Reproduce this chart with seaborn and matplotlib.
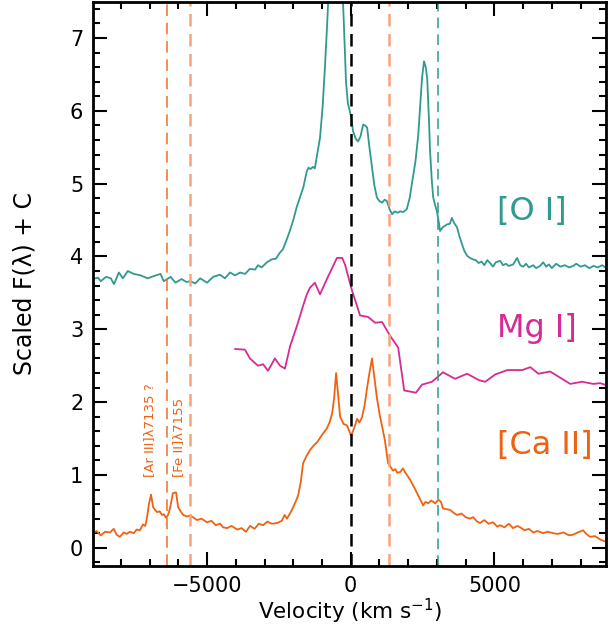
import numpy as np
import pandas as pd
import matplotlib
matplotlib.use("Agg")
import matplotlib.pyplot as plt
from matplotlib.ticker import MultipleLocator
import seaborn as sns

# [O I] spectrum (velocity in km/s, scaled flux + offset)
oi_vel = [-8970, -8800, -8700, -8520, -8350, -8240, -8070, -7930, -7760, -7550,
          -7310, -7070, -6860, -6620, -6510, -6270, -6100, -5890, -5720, -5580,
          -5410, -5240, -5000, -4790, -4550, -4380, -4200, -4030, -3850, -3680,
          -3510, -3330, -3230, -3100, -2920, -2750, -2600, -2470, -2360, -2240,
          -2120, -2000, -1880, -1770, -1650, -1530, -1470, -1400, -1320, -1250,
          -1170, -1070, -980, -900, -820, -750, -600, -450, -300, -240,
          -165, -100, -60, 20, 80, 170, 255, 340, 430, 500,
          570, 650, 740, 820, 910, 1000, 1090, 1180, 1260, 1350,
          1440, 1530, 1630, 1720, 1830, 1950, 2050, 2140, 2250, 2350,
          2420, 2480, 2550, 2610, 2660, 2720, 2760, 2820, 2870, 2940,
          3000, 3060, 3110, 3200, 3350, 3450, 3520, 3600, 3700, 3780,
          3870, 3950, 4050, 4150, 4250, 4350, 4450, 4550, 4650, 4750,
          4850, 4950, 5050, 5200, 5300, 5400, 5500, 5650, 5790, 5900,
          6000, 6100, 6200, 6350, 6450, 6590, 6700, 6800, 6900, 7000,
          7150, 7300, 7450, 7600, 7740, 7850, 8000, 8150, 8300, 8450,
          8600, 8750, 8900]
oi_flux = [3.69, 3.71, 3.66, 3.72, 3.70, 3.62, 3.78, 3.70, 3.80, 3.76,
           3.74, 3.70, 3.73, 3.76, 3.66, 3.72, 3.64, 3.69, 3.65, 3.66,
           3.63, 3.70, 3.64, 3.72, 3.75, 3.70, 3.78, 3.74, 3.78, 3.76,
           3.83, 3.82, 3.88, 3.85, 3.92, 3.96, 3.97, 4.05, 4.10, 4.22,
           4.35, 4.50, 4.68, 4.81, 4.95, 5.17, 5.22, 5.20, 5.23, 5.21,
           5.40, 5.63, 6.05, 6.59, 7.20, 7.80, 8.30, 8.20, 7.80, 7.20,
           6.40, 6.10, 6.04, 5.90, 5.72, 5.62, 5.58, 5.65, 5.81, 5.80,
           5.77, 5.50, 5.22, 4.98, 4.81, 4.76, 4.74, 4.78, 4.76, 4.65,
           4.58, 4.62, 4.60, 4.62, 4.61, 4.65, 4.80, 5.03, 5.30, 5.67,
           6.10, 6.45, 6.68, 6.60, 6.45, 5.90, 5.45, 5.05, 4.81, 4.70,
           4.62, 4.48, 4.35, 4.40, 4.44, 4.45, 4.53, 4.46, 4.40, 4.28,
           4.17, 4.08, 4.01, 3.98, 3.96, 3.95, 3.91, 3.93, 3.88, 3.95,
           3.91, 3.86, 3.92, 3.94, 3.88, 3.90, 3.87, 3.89, 3.98, 3.88,
           3.86, 3.90, 3.85, 3.88, 3.84, 3.87, 3.92, 3.86, 3.89, 3.84,
           3.90, 3.86, 3.88, 3.85, 3.87, 3.90, 3.86, 3.88, 3.84, 3.87,
           3.85, 3.88, 3.84]

# Mg I] spectrum
mg_vel = [-4030, -3680, -3510, -3230, -3050, -2880, -2640, -2460, -2290, -2110,
          -1870, -1660, -1530, -1420, -1250, -1070, -830, -480, -300, -200,
          45, 325, 600, 850, 1090, 1370, 1650, 1860, 2270, 2480,
          2830, 3210, 3630, 4050, 4470, 4680, 5030, 5450, 5970, 6250,
          6530, 6940, 7640, 8050, 8440, 8680, 8920]
mg_flux = [2.73, 2.72, 2.60, 2.50, 2.52, 2.43, 2.60, 2.50, 2.46, 2.77,
           3.05, 3.32, 3.48, 3.57, 3.64, 3.48, 3.69, 3.98, 3.98, 3.89,
           3.53, 3.19, 3.17, 3.09, 3.10, 2.91, 2.75, 2.16, 2.13, 2.24,
           2.28, 2.41, 2.32, 2.39, 2.30, 2.28, 2.38, 2.44, 2.44, 2.48,
           2.39, 2.42, 2.25, 2.28, 2.25, 2.26, 2.23]

# [Ca II] spectrum
ca_vel = [-8970, -8850, -8700, -8550, -8380, -8250, -8150, -8040, -7900, -7800,
          -7690, -7550, -7450, -7340, -7230, -7150, -7090, -7020, -6950, -6880,
          -6810, -6740, -6650, -6570, -6500, -6430, -6360, -6290, -6190, -6080,
          -6010, -5920, -5830, -5700, -5600, -5490, -5350, -5200, -5000, -4850,
          -4700, -4550, -4440, -4300, -4150, -3950, -3800, -3650, -3500, -3350,
          -3200, -3050, -2900, -2750, -2560, -2400, -2300, -2220, -2100, -2000,
          -1900, -1830, -1740, -1660, -1540, -1420, -1300, -1170, -1000, -830,
          -740, -650, -580, -510, -440, -370, -250, -130, 0, 45,
          150, 220, 300, 390, 480, 570, 650, 740, 820, 910,
          1010, 1100, 1190, 1250, 1300, 1400, 1470, 1550, 1620, 1720,
          1820, 1900, 1990, 2070, 2180, 2310, 2420, 2520, 2600, 2700,
          2800, 2940, 3050, 3140, 3210, 3330, 3460, 3580, 3700, 3850,
          4000, 4150, 4260, 4400, 4500, 4650, 4800, 4950, 5100, 5200,
          5350, 5500, 5650, 5800, 5900, 6050, 6200, 6350, 6500, 6700,
          6850, 7050, 7200, 7400, 7600, 7740, 7900, 8090, 8200, 8330,
          8500, 8700, 8920]
ca_flux = [0.20, 0.23, 0.17, 0.22, 0.21, 0.26, 0.18, 0.15, 0.21, 0.19,
           0.22, 0.20, 0.25, 0.24, 0.32, 0.30, 0.42, 0.61, 0.73, 0.56,
           0.52, 0.49, 0.50, 0.45, 0.46, 0.41, 0.45, 0.54, 0.75, 0.76,
           0.56, 0.50, 0.45, 0.43, 0.44, 0.42, 0.38, 0.40, 0.35, 0.37,
           0.31, 0.33, 0.28, 0.27, 0.30, 0.25, 0.27, 0.22, 0.30, 0.26,
           0.33, 0.31, 0.36, 0.33, 0.34, 0.37, 0.45, 0.40, 0.48, 0.56,
           0.65, 0.72, 0.90, 1.16, 1.26, 1.34, 1.40, 1.45, 1.55, 1.64,
           1.72, 1.84, 2.05, 2.40, 2.10, 1.80, 1.70, 1.68, 1.55, 1.57,
           1.68, 1.77, 1.72, 1.79, 1.95, 2.20, 2.40, 2.60, 2.35, 2.06,
           1.82, 1.65, 1.47, 1.30, 1.16, 1.10, 1.06, 1.08, 1.03, 1.04,
           1.09, 1.03, 0.98, 0.93, 0.85, 0.75, 0.66, 0.58, 0.63, 0.61,
           0.65, 0.61, 0.66, 0.63, 0.54, 0.53, 0.52, 0.48, 0.45, 0.47,
           0.42, 0.40, 0.42, 0.36, 0.34, 0.38, 0.33, 0.35, 0.29, 0.31,
           0.28, 0.33, 0.27, 0.30, 0.28, 0.24, 0.26, 0.21, 0.23, 0.20,
           0.22, 0.20, 0.19, 0.21, 0.17, 0.18, 0.21, 0.24, 0.19, 0.15,
           0.16, 0.11, 0.08]

# reference velocities of other lines
ar_vel = -6407
fe_vel = -5596
red_vel = 1323
teal_vel = 3040

teal = '#2f9a8e'
magenta = '#d62a96'
orange = '#ee6212'
peach = '#f4a57c'

sns.set_style("ticks")
plt.rcParams['font.family'] = ['DejaVu Sans']
plt.rcParams['text.color'] = 'black'
plt.rcParams['axes.labelcolor'] = 'black'
plt.rcParams['xtick.color'] = 'black'
plt.rcParams['ytick.color'] = 'black'

fig = plt.figure(figsize=(6.08, 6.37), dpi=100)
ax = fig.add_axes([0.153, 0.1115, 0.844, 0.886])

sns.lineplot(x=oi_vel, y=oi_flux, color=teal, linewidth=1.3, ax=ax)
sns.lineplot(x=mg_vel, y=mg_flux, color=magenta, linewidth=1.3, ax=ax)
sns.lineplot(x=ca_vel, y=ca_flux, color=orange, linewidth=1.3, ax=ax)

ax.axvline(0, color='black', linestyle=(0, (5, 3)), linewidth=1.8)
ax.axvline(ar_vel, color='#ef7a3a', linestyle=(0, (7, 4)), linewidth=1.2)
ax.axvline(fe_vel, color=peach, linestyle=(0, (5, 3)), linewidth=1.8)
ax.axvline(red_vel, color=peach, linestyle=(0, (5, 3)), linewidth=1.8)
ax.axvline(teal_vel, color=teal, linestyle=(0, (7, 4)), linewidth=1.1)

ax.text(-6990, 0.97, "[Ar III]λ7135 ?", rotation=90, color=orange,
        fontsize=9.5, ha='center', va='bottom')
ax.text(-6010, 0.97, "[Fe II]λ7155", rotation=90, color=orange,
        fontsize=9.5, ha='center', va='bottom')

ax.text(5100, 4.62, "[O I]", color=teal, fontsize=23, ha='left', va='center')
ax.text(5100, 3.01, "Mg I]", color=magenta, fontsize=23, ha='left', va='center')
ax.text(5100, 1.41, "[Ca II]", color=orange, fontsize=23, ha='left', va='center')

ax.set_xlim(-8970, 8890)
ax.set_ylim(-0.25, 7.5)
ax.xaxis.set_major_locator(MultipleLocator(5000))
ax.xaxis.set_minor_locator(MultipleLocator(1000))
ax.yaxis.set_major_locator(MultipleLocator(1))
ax.yaxis.set_minor_locator(MultipleLocator(0.2))
ax.tick_params(which='both', direction='in', top=True, right=True,
               labelsize=15, width=1.5, color='black', labelcolor='black')
ax.tick_params(which='major', length=10, pad=7)
ax.tick_params(which='minor', length=5)
for sp in ax.spines.values():
    sp.set_linewidth(2)
    sp.set_color('black')

ax.set_xlabel("Velocity (km s$^{-1}$)", fontsize=15.5, labelpad=1)
ax.set_ylabel("Scaled F(λ) + C", fontsize=17, labelpad=24)

fig.savefig("out.png", dpi=100)
